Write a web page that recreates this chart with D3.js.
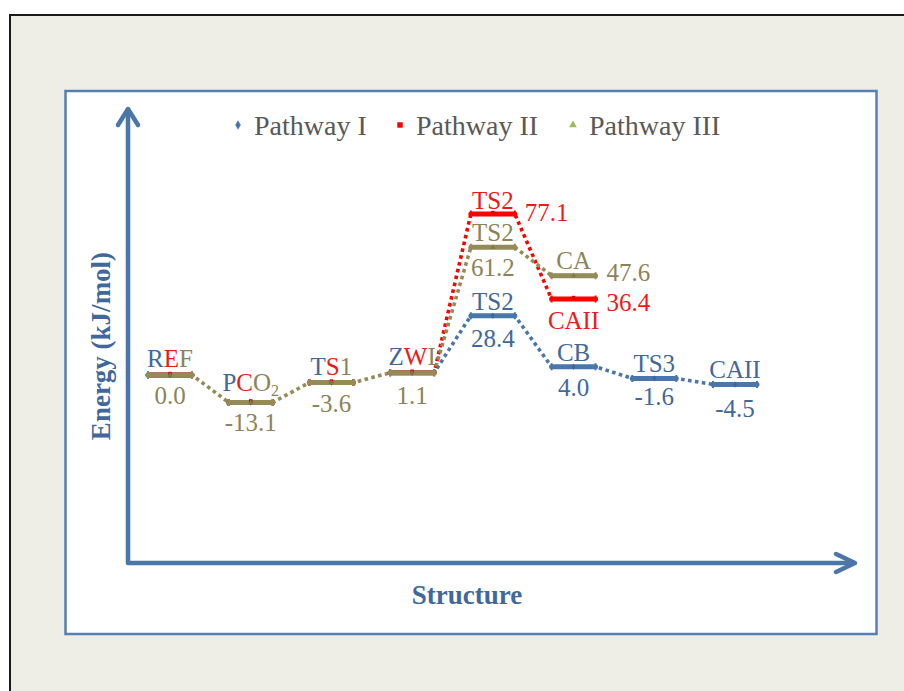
<!DOCTYPE html>
<html>
<head>
<meta charset="utf-8">
<script src="https://cdn.jsdelivr.net/npm/d3@7"></script>
<style>
  html, body { margin: 0; padding: 0; background: #ffffff; }
  svg { display: block; }
</style>
</head>
<body>
<svg id="chart" width="904" height="691"></svg>
<script>
// Reaction steps along the structure axis
const steps = ["REF", "PCO2", "TS1", "ZWI", "TS2", "C", "TS3", "CAII"];

// Relative energies (kJ/mol) for each pathway
const pathwayI   = [0.0, -13.1, -3.6, 1.1, 28.4, 4.0, -1.6, -4.5];
const pathwayII  = [0.0, -13.1, -3.6, 1.1, 77.1, 36.4];
const pathwayIII = [0.0, -13.1, -3.6, 1.1, 61.2, 47.6];

// Structure names per pathway (first four are shared)
const namesI   = ["REF", "PCO2", "TS1", "ZWI", "TS2", "CB", "TS3", "CAII"];
const namesII  = ["REF", "PCO2", "TS1", "ZWI", "TS2", "CAII"];
const namesIII = ["REF", "PCO2", "TS1", "ZWI", "TS2", "CA"];

// Shared structures: letter groups coloured by pathway (I, II, III, subscript)
const sharedParts = [
  ["R", "E", "F", ""],
  ["P", "C", "O", "2"],
  ["T", "S", "1", ""],
  ["Z", "W", "I", ""]
];
const sharedCount = 4;

const seriesNames = ["Pathway I", "Pathway II", "Pathway III"];

const COLORS = {
  I:   { mark: "#4a76a9", text: "#41689b" },
  II:  { mark: "#ff0000", text: "#f01818" },
  III: { mark: "#958b56", text: "#8c8357" }
};
const FONT = "'Liberation Serif', 'Times New Roman', Times, serif";

const svg = d3.select("#chart");

// Page frame
svg.append("rect").attr("x", 10).attr("y", 15).attr("width", 904).attr("height", 691)
  .attr("fill", "#eeede6");
svg.append("path").attr("d", "M10,691 V15 H904")
  .attr("fill", "none").attr("stroke", "#1a1a1a").attr("stroke-width", 2);

// Chart area
svg.append("rect").attr("x", 65.5).attr("y", 91).attr("width", 811).attr("height", 543)
  .attr("fill", "#ffffff").attr("stroke", "#5580b4").attr("stroke-width", 2.5);

// Scales
const x = d3.scalePoint().domain(steps).range([170, 735]);
const y = d3.scaleLinear().domain([-90, 125]).range([563, 114]);

// Axes drawn as arrows
const axisColor = "#4a76a8";
const x0 = 128, yBase = y(-90), yTop = 109, xEnd = 855;
const axes = svg.append("g").attr("fill", "none").attr("stroke", axisColor)
  .attr("stroke-width", 4.5).attr("stroke-linecap", "round").attr("stroke-linejoin", "round");
axes.append("path").attr("d", `M${x0},${yBase} V${yTop + 2} M${xEnd - 2},${yBase} H${x0}`);
axes.append("path").attr("d", `M${x0 - 10},${yTop + 16} L${x0},${yTop} L${x0 + 10},${yTop + 16}`);
axes.append("path").attr("d", `M${xEnd - 19},${yBase - 9} L${xEnd},${yBase} L${xEnd - 19},${yBase + 9}`);

// Axis titles
svg.append("text")
  .attr("transform", `translate(110,${346}) rotate(-90)`)
  .attr("text-anchor", "middle")
  .attr("font-family", FONT).attr("font-weight", "bold").attr("font-size", 27)
  .attr("fill", "#41689b").text("Energy (kJ/mol)");
svg.append("text")
  .attr("x", 467).attr("y", 604).attr("text-anchor", "middle")
  .attr("font-family", FONT).attr("font-weight", "bold").attr("font-size", 27)
  .attr("fill", "#41689b").text("Structure");

// Series definitions
const series = [
  { key: "I",   values: pathwayI,   names: namesI },
  { key: "II",  values: pathwayII,  names: namesII },
  { key: "III", values: pathwayIII, names: namesIII }
];
series.forEach(s => {
  s.points = s.values.map((v, i) => ({ step: steps[i], value: v, name: s.names[i], i }));
});

const halfW = 22;

// Dotted connectors run from the end of one level to the start of the next;
// the shared stretch is drawn once, by the top-most pathway
const line = d3.line().x(d => x(d.step) + d.side * halfW).y(d => y(d.value));
const gLines = svg.append("g");
series.forEach(s => {
  const from = s.key === "III" ? 0 : sharedCount - 1;
  const pts = s.points.slice(from).flatMap(d => [{ ...d, side: -1 }, { ...d, side: 1 }]);
  gLines.append("path").datum(pts)
    .attr("d", line).attr("fill", "none")
    .attr("stroke", COLORS[s.key].mark).attr("stroke-width", 3.6)
    .attr("stroke-dasharray", "3.6,3.4");
});

// Energy level bars
const gBars = svg.append("g");
series.forEach(s => {
  const g = gBars.append("g").attr("stroke", COLORS[s.key].mark);
  g.selectAll("line.level").data(s.points).join("line")
    .attr("class", "level")
    .attr("x1", d => x(d.step) - halfW).attr("x2", d => x(d.step) + halfW)
    .attr("y1", d => y(d.value)).attr("y2", d => y(d.value))
    .attr("stroke-width", 5).attr("stroke-linecap", "round");
  g.selectAll("path.cap").data(s.points).join("path")
    .attr("class", "cap")
    .attr("d", d => {
      const cx = x(d.step), cy = y(d.value);
      return `M${cx - halfW},${cy - 3.5} V${cy + 3.5} M${cx + halfW},${cy - 3.5} V${cy + 3.5}`;
    })
    .attr("stroke-width", 2).attr("fill", "none");
});

// Small point markers
const markerSym = { I: d3.symbolDiamond, II: d3.symbolSquare, III: d3.symbolTriangle };
const gMarks = svg.append("g");
series.forEach(s => {
  gMarks.append("g").selectAll("path").data(s.points).join("path")
    .attr("transform", d => `translate(${x(d.step)},${y(d.value) - (s.key === "II" ? 1.5 : 0)})`)
    .attr("d", d3.symbol().type(markerSym[s.key]).size(12))
    .attr("fill", d3.color(COLORS[s.key].mark).darker(0.4));
});

// Labels
const gLab = svg.append("g").attr("font-family", FONT).attr("font-size", 25);

// label placement tweaks: [series, index] -> offsets
const nameOffset = { "II-5": 30, "II-4": -5, "III-5": -7, "I-1": -11, "I-2": -8 };
const valueOffset = {
  "II-4": { dx: 32, dy: 7, anchor: "start" },
  "III-5": { dx: 33, dy: 5, anchor: "start" },
  "II-5": { dx: 33, dy: 12, anchor: "start" },
  "I-3": { dx: 0, dy: 31 },
  "I-4": { dx: 0, dy: 31 },
  "I-7": { dx: 0, dy: 33 },
  "I-6": { dx: 0, dy: 27 }
};

// shared structures (labelled once)
const order = ["I", "II", "III"];
pathwayI.slice(0, sharedCount).forEach((v, i) => {
  const cx = x(steps[i]), cy = y(v);
  const t = gLab.append("text").attr("x", cx).attr("y", cy + (nameOffset["I-" + i] ?? -8))
    .attr("text-anchor", "middle");
  sharedParts[i].slice(0, 3).forEach((p, k) => {
    t.append("tspan").attr("fill", COLORS[order[k]].text).text(p);
  });
  if (sharedParts[i][3]) {
    t.append("tspan").attr("fill", COLORS.III.text).attr("font-size", 16)
      .attr("dy", 5).text(sharedParts[i][3]);
  }
  const vo = valueOffset["I-" + i] || { dx: 0, dy: 29 };
  gLab.append("text").attr("x", cx + vo.dx).attr("y", cy + vo.dy)
    .attr("text-anchor", "middle").attr("fill", COLORS.III.text)
    .text(v.toFixed(1));
});

// pathway-specific structures
series.forEach(s => {
  s.points.slice(sharedCount).forEach(d => {
    const id = s.key + "-" + d.i;
    const cx = x(d.step), cy = y(d.value);
    gLab.append("text").attr("x", cx).attr("y", cy + (nameOffset[id] ?? -6))
      .attr("text-anchor", "middle").attr("fill", COLORS[s.key].text).text(d.name);
    const vo = valueOffset[id] || { dx: 0, dy: 29 };
    gLab.append("text").attr("x", cx + vo.dx).attr("y", cy + vo.dy)
      .attr("text-anchor", vo.anchor || "middle").attr("fill", COLORS[s.key].text)
      .text(d.value.toFixed(1));
  });
});

// Legend
const legendX = [238, 400, 573];
const gLeg = svg.append("g").attr("font-family", FONT).attr("font-size", 28).attr("fill", "#595959");
seriesNames.forEach((name, k) => {
  const key = order[k];
  gLeg.append("path")
    .attr("transform", `translate(${legendX[k]},${125})`)
    .attr("d", d3.symbol().type(markerSym[key]).size(key === "II" ? 30 : 26))
    .attr("fill", key === "III" ? "#9bbb59" : COLORS[key].mark);
  gLeg.append("text").attr("x", legendX[k] + 16).attr("y", 135).text(name);
});
</script>
</body>
</html>
